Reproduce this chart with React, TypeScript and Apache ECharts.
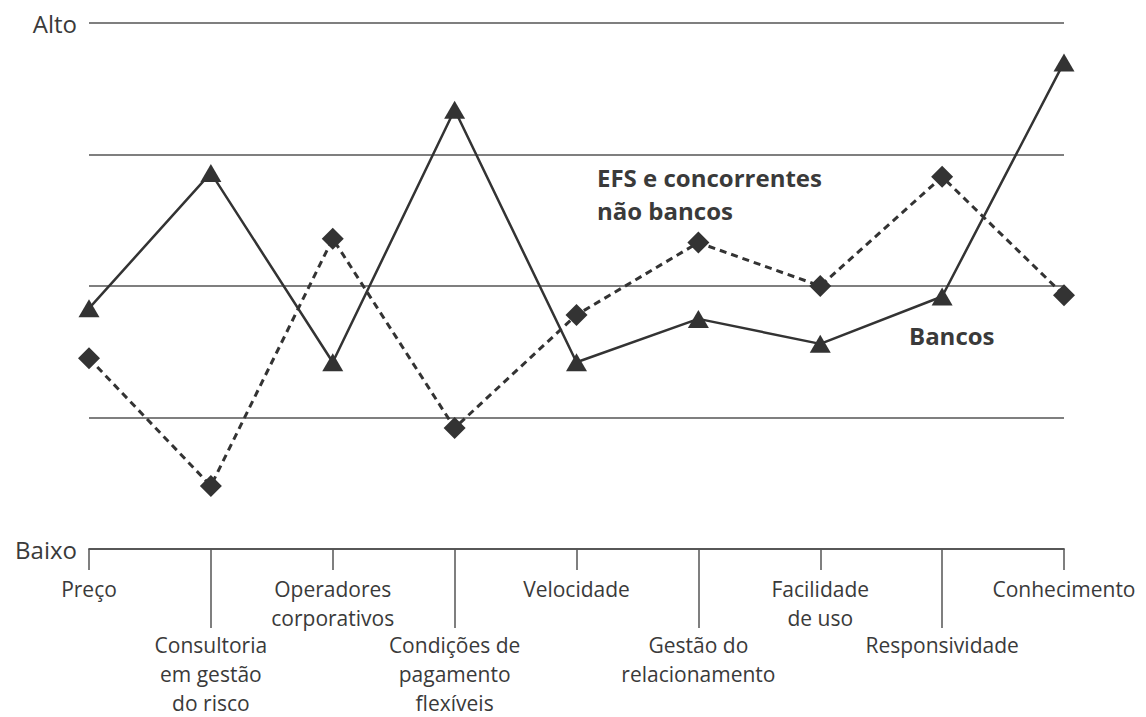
import React, { useEffect, useRef } from "react";
import * as echarts from "echarts";

const categories = [
  "Preço",
  "Consultoria\nem gestão\ndo risco",
  "Operadores\ncorporativos",
  "Condições de\npagamento\nflexíveis",
  "Velocidade",
  "Gestão do\nrelacionamento",
  "Facilidade\nde uso",
  "Responsividade",
  "Conhecimento",
];

const bancos = [1.83, 2.86, 1.42, 3.34, 1.42, 1.75, 1.56, 1.92, 3.7];
const efs = [1.45, 0.48, 2.36, 0.92, 1.78, 2.33, 2.0, 2.83, 1.93];

const yLabels: Record<number, string> = { 0: "Baixo", 4: "Alto" };

const seriesNames = ["EFS e concorrentes\nnão bancos", "Bancos"];

const FONT = "'Open Sans', sans-serif";
const TEXT = "#3a3a3a";
const LINE = "#333333";
const GRID = "#555555";

export default function App() {
  const ref = useRef<HTMLDivElement>(null);
  useEffect(() => {
    if (!ref.current) return;
    const chart = echarts.init(ref.current, undefined, { renderer: "svg" });
    const baseAxis = {
      type: "category",
      data: categories,
      boundaryGap: false,
      position: "bottom",
      axisLine: { show: true, lineStyle: { color: GRID, width: 1.5 } },
      axisLabel: {
        fontFamily: FONT,
        fontSize: 21,
        color: TEXT,
        lineHeight: 29,
        align: "center",
      },
    };
    chart.setOption({
      animation: false,
      grid: { left: 89, right: 82, top: 23, bottom: 166, containLabel: false },
      xAxis: [
        {
          ...baseAxis,
          axisTick: {
            show: true,
            length: 21,
            interval: (i: number) => i % 2 === 0,
            lineStyle: { color: GRID, width: 1.5 },
          },
          axisLabel: {
            ...baseAxis.axisLabel,
            margin: 25,
            interval: (i: number) => i % 2 === 0,
          },
        },
        {
          ...baseAxis,
          axisTick: {
            show: true,
            length: 79,
            interval: (i: number) => i % 2 === 1,
            lineStyle: { color: GRID, width: 1.5 },
          },
          axisLabel: {
            ...baseAxis.axisLabel,
            margin: 81,
            interval: (i: number) => i % 2 === 1,
          },
        },
      ],
      yAxis: {
        type: "value",
        min: 0,
        max: 4,
        interval: 1,
        axisLine: { show: false },
        axisTick: { show: false },
        splitLine: { show: true, lineStyle: { color: GRID, width: 1.5 } },
        axisLabel: {
          fontFamily: FONT,
          fontSize: 24,
          color: TEXT,
          margin: 12,
          formatter: (v: number) => yLabels[v] ?? "",
        },
      },
      series: [
        {
          name: seriesNames[0],
          type: "line",
          xAxisIndex: 0,
          data: efs,
          symbol: "diamond",
          symbolSize: [22, 22],
          lineStyle: { color: LINE, width: 3, type: [7, 5] },
          itemStyle: { color: LINE, borderWidth: 0 },
          z: 2,
        },
        {
          name: seriesNames[1],
          type: "line",
          xAxisIndex: 0,
          data: bancos,
          symbol: "triangle",
          symbolSize: [21, 18],
          lineStyle: { color: LINE, width: 2.5, type: "solid" },
          itemStyle: { color: LINE, borderWidth: 0 },
          z: 3,
        },
      ],
      graphic: [
        {
          type: "text",
          x: 597,
          y: 160.5,
          style: {
            text: seriesNames[0],
            fontFamily: FONT,
            fontSize: 24,
            fontWeight: "bold",
            fill: TEXT,
            lineHeight: 33,
            verticalAlign: "top",
            align: "left",
          },
        },
        {
          type: "text",
          x: 909,
          y: 335,
          style: {
            text: seriesNames[1],
            fontFamily: FONT,
            fontSize: 24,
            fontWeight: "bold",
            fill: TEXT,
            verticalAlign: "middle",
            align: "left",
          },
        },
      ],
    });
    return () => chart.dispose();
  }, []);
  return (
    <div
      ref={ref}
      style={{ position: "fixed", left: 0, top: 0, width: 1146, height: 717, background: "#fff" }}
    />
  );
}
